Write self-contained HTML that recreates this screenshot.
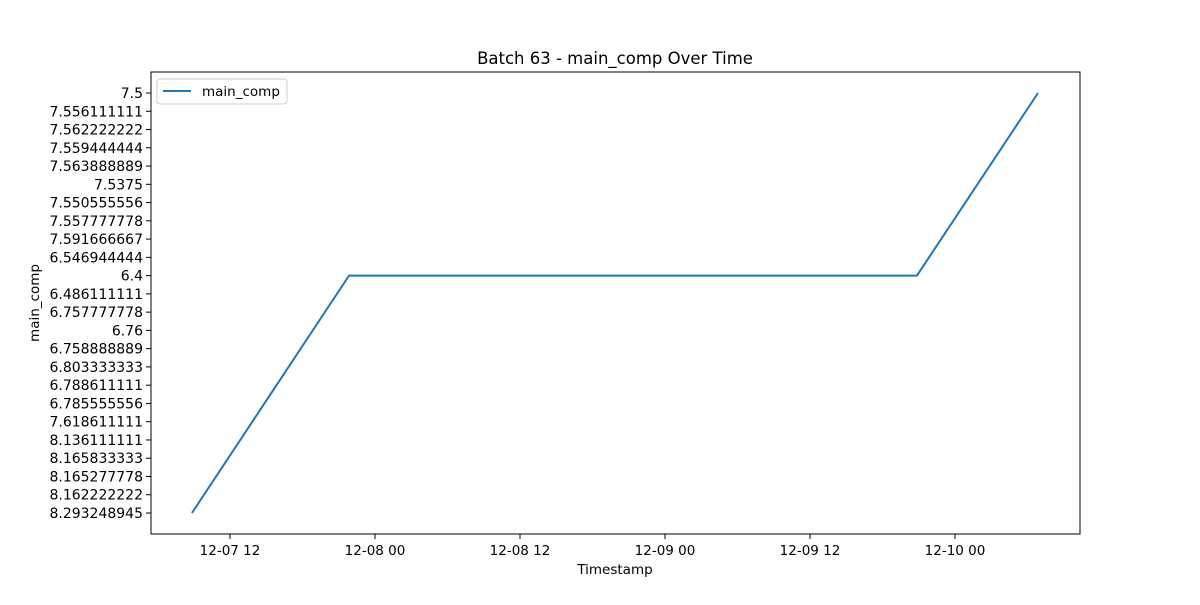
<!DOCTYPE html>
<html><head><meta charset="utf-8"><style>
body{margin:0;background:#fff;font-family:"Liberation Sans","DejaVu Sans",sans-serif;}
text{font-family:"DejaVu Sans","Liberation Sans",sans-serif;}
</style></head><body>
<svg id="chart" width="1200" height="600" xmlns="http://www.w3.org/2000/svg">
<rect width="1200" height="600" fill="#fff"/>
<text x="615" y="64" text-anchor="middle" font-size="16.5">Batch 63 - main_comp Over Time</text>
<g id="axes"></g>
<rect x="151" y="72" width="929" height="462" fill="none" stroke="#000" stroke-width="1"/>
<text x="615" y="574" text-anchor="middle" font-size="13.5">Timestamp</text>
<text transform="translate(39,303) rotate(-90)" text-anchor="middle" font-size="13.5">main_comp</text>
<g>
<rect x="157" y="79" width="130" height="25" rx="3" fill="#fff" stroke="#ccc"/>
<line x1="163" y1="91" x2="191" y2="91" stroke="#1f77b4" stroke-width="2"/>
<text x="202" y="96" font-size="13.5">main_comp</text>
</g>
</svg>
<script>
const categories=["8.293248945","8.162222222","8.165277778","8.165833333","8.136111111","7.618611111","6.785555556","6.788611111","6.803333333","6.758888889","6.76","6.757777778","6.486111111","6.4","6.546944444","7.591666667","7.557777778","7.550555556","7.5375","7.563888889","7.559444444","7.562222222","7.556111111","7.5"];
// hours since 12-07 00:00
const times=[8.85,21.85,68.85,78.87];
const values=["8.293248945","6.4","6.4","7.5"];
const xTickHours=[12,24,36,48,60,72];
const xTickLabels=["12-07 12","12-08 00","12-08 12","12-09 00","12-09 12","12-10 00"];
const NS="http://www.w3.org/2000/svg";
const g=document.getElementById('axes');
const x=h=>230+(h-12)*145/12;
const y=c=>513-categories.indexOf(c)*(420/(categories.length-1));
function mk(t,a){const e=document.createElementNS(NS,t);for(const k in a)e.setAttribute(k,a[k]);g.appendChild(e);return e;}
categories.forEach(c=>{
 const l=mk('line',{x1:146,x2:151,y1:y(c),y2:y(c),stroke:'#000'});
 
 
 const t=mk('text',{x:143,y:y(c)+5,'text-anchor':'end','font-size':14});
 
 
 t.textContent=c;
});
xTickHours.forEach((h,i)=>{
 const l=mk('line',{x1:x(h),x2:x(h),y1:534,y2:539,stroke:'#000'});
 
 
 const t=mk('text',{x:x(h),y:555,'text-anchor':'middle','font-size':13.5});
 
 
 t.textContent=xTickLabels[i];
});
const p=mk('polyline',{points:times.map((h,i)=>x(h)+','+y(values[i])).join(' '),fill:'none',stroke:'#1f77b4','stroke-width':2});


</script>
</body></html>
